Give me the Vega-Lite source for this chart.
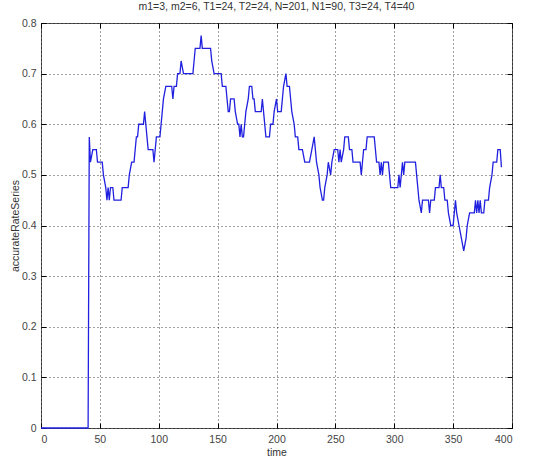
{
  "$schema": "https://vega.github.io/schema/vega-lite/v6.json",
  "width": 471,
  "height": 405,
  "autosize": "none",
  "padding": {"left": 41, "top": 23, "right": 26, "bottom": 31},
  "background": "white",
  "title": {
    "text": "m1=3, m2=6, T1=24, T2=24, N=201, N1=90, T3=24, T4=40",
    "font": "Liberation Sans",
    "fontSize": 10.5,
    "fontWeight": "normal",
    "color": "#333",
    "anchor": "middle",
    "offset": 6
  },
  "data": {
    "values": [
      {"t": 0, "v": 0}, {"t": 40, "v": 0}, {"t": 41, "v": 0.575}, {"t": 42, "v": 0.525},
      {"t": 44, "v": 0.55}, {"t": 47, "v": 0.55}, {"t": 48, "v": 0.525}, {"t": 52, "v": 0.525},
      {"t": 53, "v": 0.5}, {"t": 55, "v": 0.475}, {"t": 56, "v": 0.45}, {"t": 57, "v": 0.475},
      {"t": 58, "v": 0.45}, {"t": 59, "v": 0.475}, {"t": 61, "v": 0.475}, {"t": 62, "v": 0.45},
      {"t": 68, "v": 0.45}, {"t": 69, "v": 0.475}, {"t": 74, "v": 0.475}, {"t": 75, "v": 0.5},
      {"t": 77, "v": 0.525}, {"t": 79, "v": 0.525}, {"t": 80, "v": 0.55}, {"t": 81, "v": 0.575},
      {"t": 82, "v": 0.575}, {"t": 83, "v": 0.6}, {"t": 87, "v": 0.6}, {"t": 88, "v": 0.625},
      {"t": 89, "v": 0.6}, {"t": 90, "v": 0.575}, {"t": 91, "v": 0.55}, {"t": 95, "v": 0.55},
      {"t": 96, "v": 0.525}, {"t": 97, "v": 0.55}, {"t": 98, "v": 0.575}, {"t": 101, "v": 0.575},
      {"t": 102, "v": 0.6}, {"t": 103, "v": 0.625}, {"t": 104, "v": 0.65}, {"t": 106, "v": 0.675},
      {"t": 111, "v": 0.675}, {"t": 112, "v": 0.65}, {"t": 113, "v": 0.675}, {"t": 115, "v": 0.675},
      {"t": 116, "v": 0.7}, {"t": 118, "v": 0.7}, {"t": 119, "v": 0.725}, {"t": 121, "v": 0.7},
      {"t": 129, "v": 0.7}, {"t": 130, "v": 0.725}, {"t": 131, "v": 0.75}, {"t": 135, "v": 0.75},
      {"t": 136, "v": 0.775}, {"t": 137, "v": 0.75}, {"t": 144, "v": 0.75}, {"t": 145, "v": 0.725},
      {"t": 147, "v": 0.7}, {"t": 153, "v": 0.7}, {"t": 154, "v": 0.675}, {"t": 157, "v": 0.675},
      {"t": 158, "v": 0.65}, {"t": 159, "v": 0.625}, {"t": 160, "v": 0.625}, {"t": 161, "v": 0.65},
      {"t": 164, "v": 0.65}, {"t": 165, "v": 0.625}, {"t": 167, "v": 0.6}, {"t": 168, "v": 0.6},
      {"t": 169, "v": 0.575}, {"t": 170, "v": 0.6}, {"t": 171, "v": 0.575}, {"t": 172, "v": 0.575},
      {"t": 173, "v": 0.6}, {"t": 174, "v": 0.625}, {"t": 176, "v": 0.65}, {"t": 177, "v": 0.675},
      {"t": 179, "v": 0.675}, {"t": 180, "v": 0.65}, {"t": 181, "v": 0.65}, {"t": 182, "v": 0.625},
      {"t": 187, "v": 0.625}, {"t": 188, "v": 0.65}, {"t": 189, "v": 0.625}, {"t": 190, "v": 0.6},
      {"t": 191, "v": 0.575}, {"t": 194, "v": 0.575}, {"t": 195, "v": 0.6}, {"t": 197, "v": 0.6},
      {"t": 198, "v": 0.625}, {"t": 200, "v": 0.65}, {"t": 201, "v": 0.625}, {"t": 204, "v": 0.625},
      {"t": 205, "v": 0.65}, {"t": 206, "v": 0.675}, {"t": 208, "v": 0.7}, {"t": 209, "v": 0.675},
      {"t": 211, "v": 0.675}, {"t": 212, "v": 0.65}, {"t": 213, "v": 0.625}, {"t": 215, "v": 0.6},
      {"t": 216, "v": 0.575}, {"t": 218, "v": 0.575}, {"t": 219, "v": 0.55}, {"t": 222, "v": 0.55},
      {"t": 224, "v": 0.525}, {"t": 228, "v": 0.525}, {"t": 230, "v": 0.55}, {"t": 232, "v": 0.575},
      {"t": 233, "v": 0.55}, {"t": 234, "v": 0.525}, {"t": 236, "v": 0.5}, {"t": 237, "v": 0.475},
      {"t": 239, "v": 0.45}, {"t": 240, "v": 0.45}, {"t": 241, "v": 0.475}, {"t": 243, "v": 0.5},
      {"t": 244, "v": 0.525}, {"t": 246, "v": 0.5}, {"t": 247, "v": 0.525}, {"t": 249, "v": 0.55},
      {"t": 252, "v": 0.55}, {"t": 253, "v": 0.525}, {"t": 254, "v": 0.55}, {"t": 255, "v": 0.525},
      {"t": 257, "v": 0.55}, {"t": 258, "v": 0.575}, {"t": 261, "v": 0.575}, {"t": 262, "v": 0.55},
      {"t": 264, "v": 0.55}, {"t": 265, "v": 0.525}, {"t": 271, "v": 0.525}, {"t": 272, "v": 0.5},
      {"t": 273, "v": 0.525}, {"t": 274, "v": 0.55}, {"t": 276, "v": 0.55}, {"t": 277, "v": 0.575},
      {"t": 283, "v": 0.575}, {"t": 284, "v": 0.55}, {"t": 285, "v": 0.525}, {"t": 287, "v": 0.525},
      {"t": 288, "v": 0.5}, {"t": 289, "v": 0.525}, {"t": 290, "v": 0.5}, {"t": 291, "v": 0.525},
      {"t": 295, "v": 0.525}, {"t": 296, "v": 0.5}, {"t": 297, "v": 0.475}, {"t": 303, "v": 0.475},
      {"t": 304, "v": 0.5}, {"t": 305, "v": 0.475}, {"t": 306, "v": 0.5}, {"t": 307, "v": 0.525},
      {"t": 308, "v": 0.5}, {"t": 309, "v": 0.525}, {"t": 318, "v": 0.525}, {"t": 319, "v": 0.5},
      {"t": 320, "v": 0.475}, {"t": 321, "v": 0.45}, {"t": 323, "v": 0.425}, {"t": 324, "v": 0.45},
      {"t": 329, "v": 0.45}, {"t": 330, "v": 0.425}, {"t": 331, "v": 0.45}, {"t": 334, "v": 0.45},
      {"t": 335, "v": 0.475}, {"t": 338, "v": 0.475}, {"t": 339, "v": 0.5}, {"t": 340, "v": 0.475},
      {"t": 342, "v": 0.475}, {"t": 343, "v": 0.45}, {"t": 345, "v": 0.45}, {"t": 346, "v": 0.425},
      {"t": 348, "v": 0.4}, {"t": 350, "v": 0.4}, {"t": 351, "v": 0.425}, {"t": 352, "v": 0.45},
      {"t": 353, "v": 0.425}, {"t": 355, "v": 0.4}, {"t": 357, "v": 0.375}, {"t": 359, "v": 0.35},
      {"t": 361, "v": 0.375}, {"t": 362, "v": 0.4}, {"t": 364, "v": 0.425}, {"t": 368, "v": 0.425},
      {"t": 369, "v": 0.45}, {"t": 370, "v": 0.425}, {"t": 371, "v": 0.45}, {"t": 372, "v": 0.425},
      {"t": 373, "v": 0.45}, {"t": 374, "v": 0.425}, {"t": 376, "v": 0.425}, {"t": 377, "v": 0.45},
      {"t": 380, "v": 0.45}, {"t": 381, "v": 0.475}, {"t": 383, "v": 0.5}, {"t": 384, "v": 0.525},
      {"t": 387, "v": 0.525}, {"t": 388, "v": 0.55}, {"t": 390, "v": 0.55}, {"t": 391, "v": 0.515}
    ]
  },
  "layer": [
    {
      "mark": {"type": "line", "color": "#2020e0", "strokeWidth": 1.3, "clip": false},
      "encoding": {
        "x": {
          "field": "t",
          "type": "quantitative",
          "scale": {"domain": [0, 400], "nice": false, "zero": false},
          "axis": {
            "orient": "bottom",
            "values": [0, 50, 100, 150, 200, 250, 300, 350, 400],
            "title": "time",
            "titleY": 24,
            "titleBaseline": "middle",
            "labelPadding": 11
          }
        },
        "y": {
          "field": "v",
          "type": "quantitative",
          "scale": {"domain": [0, 0.8], "nice": false},
          "axis": {
            "orient": "left",
            "values": [0, 0.1, 0.2, 0.3, 0.4, 0.5, 0.6, 0.7, 0.8],
            "format": "~g",
            "title": "accurateRateSeries",
            "titleX": -26,
            "titleBaseline": "middle",
            "labelPadding": 10
          }
        }
      }
    },
    {
      "mark": {"type": "line", "strokeOpacity": 0},
      "encoding": {
        "x": {
          "field": "t",
          "type": "quantitative",
          "axis": {
            "orient": "top",
            "values": [0, 50, 100, 150, 200, 250, 300, 350, 400],
            "labels": false,
            "grid": false,
            "title": null
          }
        },
        "y": {
          "field": "v",
          "type": "quantitative",
          "axis": {
            "orient": "right",
            "values": [0, 0.1, 0.2, 0.3, 0.4, 0.5, 0.6, 0.7, 0.8],
            "labels": false,
            "grid": false,
            "title": null
          }
        }
      }
    }
  ],
  "resolve": {"axis": {"x": "independent", "y": "independent"}},
  "config": {
    "view": {"stroke": "#555", "strokeWidth": 1},
    "axis": {
      "domain": false,
      "grid": true,
      "gridColor": "#000",
      "gridOpacity": 0.75,
      "gridDash": [1, 3],
      "gridWidth": 1,
      "ticks": true,
      "tickSize": -5,
      "tickColor": "#000",
      "tickWidth": 1,
      "labelFont": "Liberation Sans",
      "labelFontSize": 10.5,
      "labelColor": "#444",
      "titleFont": "Liberation Sans",
      "titleFontSize": 10.5,
      "titleFontWeight": "normal",
      "titleColor": "#333"
    }
  }
}
